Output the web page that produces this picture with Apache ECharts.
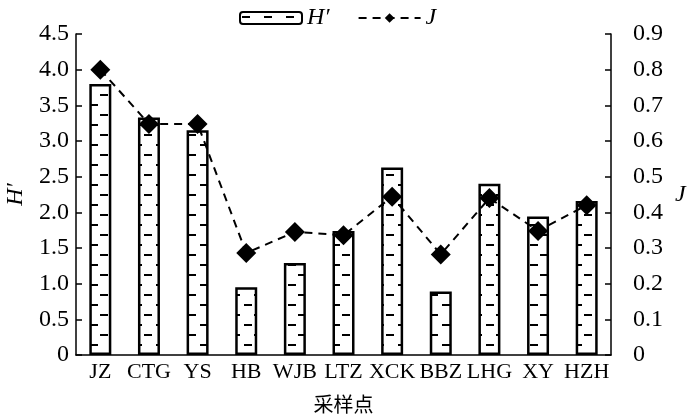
<!DOCTYPE html>
<html><head><meta charset="utf-8">
<script src="https://cdn.jsdelivr.net/npm/echarts@6/dist/echarts.min.js"></script>
<style>html,body{margin:0;padding:0;background:#fff}#c{width:700px;height:420px}</style>
</head><body><div id="c"></div>
<script>
const categories = ['JZ','CTG','YS','HB','WJB','LTZ','XCK','BBZ','LHG','XY','HZH'];
const hValues = [3.80,3.33,3.15,0.95,1.29,1.74,2.63,0.89,2.40,1.94,2.16];
const jValues = [0.80,0.648,0.648,0.286,0.345,0.336,0.444,0.282,0.44,0.348,0.42];
const leftTicks = {min:0,max:4.5,interval:0.5};
const rightTicks = {min:0,max:0.9,interval:0.1};

const pc = document.createElement('canvas');
pc.width = 22; pc.height = 20;
const g = pc.getContext('2d');
g.fillStyle = '#fff'; g.fillRect(0,0,22,20);
g.fillStyle = '#000';
g.fillRect(2,4,8,2);
g.fillRect(12,14,8,2);

const serif = 'Liberation Serif, Times New Roman, serif';
const chart = echarts.init(document.getElementById('c'));
chart.setOption({
  animation:false,
  backgroundColor:'#fff',
  grid:{left:76,right:89,top:34,bottom:65,containLabel:false,outerBoundsMode:'none'},
  legend:{
    top:1,left:234,itemGap:28,itemWidth:62,itemHeight:12,
    textStyle:{fontFamily:serif,fontStyle:'italic',fontSize:24,color:'#000'},
    data:['H′','J']
  },
  xAxis:{
    type:'category',data:categories,
    name:'采样点',nameLocation:'middle',nameGap:39,
    nameTextStyle:{fontFamily:'Noto Sans CJK SC',fontSize:20,color:'#000'},
    axisLine:{lineStyle:{color:'#000',width:1.5}},
    axisTick:{inside:true,length:6,lineStyle:{color:'#000',width:1.5}},
    axisLabel:{fontFamily:serif,fontSize:22,color:'#000',margin:6,interval:0}
  },
  yAxis:[{
    type:'value',min:leftTicks.min,max:leftTicks.max,interval:leftTicks.interval,
    name:'H′',nameLocation:'middle',nameGap:48,nameRotate:90,
    nameTextStyle:{fontFamily:serif,fontStyle:'italic',fontSize:24,color:'#000'},
    axisLine:{show:true,lineStyle:{color:'#000',width:1.5}},
    axisTick:{show:true,inside:true,length:6,lineStyle:{color:'#000',width:1.5}},
    splitLine:{show:false},
    axisLabel:{fontFamily:serif,fontSize:24,color:'#000',margin:7,
      formatter:v=>v===0?'0':v.toFixed(1)}
  },{
    type:'value',min:rightTicks.min,max:rightTicks.max,interval:rightTicks.interval,
    position:'right',
    name:'J',nameLocation:'middle',nameGap:64,nameRotate:0,
    nameTextStyle:{fontFamily:serif,fontStyle:'italic',fontSize:24,color:'#000'},
    axisLine:{show:true,lineStyle:{color:'#000',width:1.5}},
    axisTick:{show:true,inside:true,length:6,lineStyle:{color:'#000',width:1.5}},
    splitLine:{show:false},
    axisLabel:{fontFamily:serif,fontSize:24,color:'#000',margin:22,
      formatter:v=>v===0?'0':v.toFixed(1)}
  }],
  series:[{
    name:'H′',type:'bar',data:hValues,barWidth:22,yAxisIndex:0,
    itemStyle:{color:{image:pc,repeat:'repeat'},borderColor:'#000',borderWidth:2.5}
  },{
    name:'J',type:'line',data:jValues,yAxisIndex:1,
    symbol:'diamond',symbolSize:20,
    lineStyle:{color:'#000',width:2,type:[8,6]},
    itemStyle:{color:'#000'}
  }]
});
</script></body></html>
